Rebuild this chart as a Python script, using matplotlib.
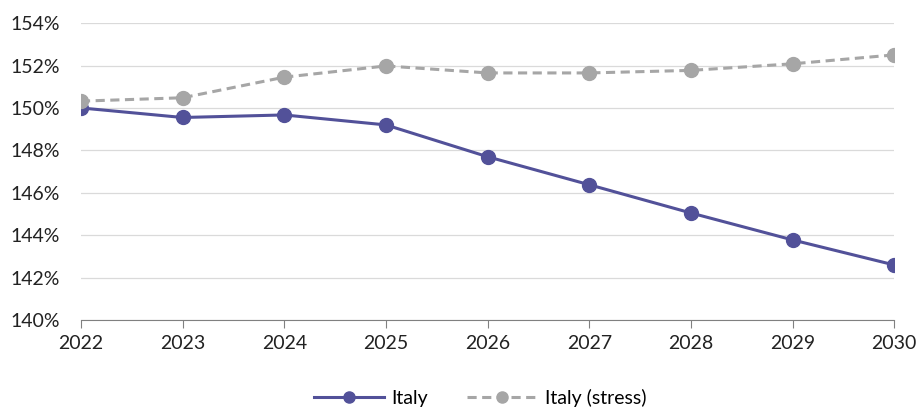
import matplotlib
matplotlib.use("Agg")
import matplotlib.pyplot as plt
from matplotlib.ticker import FuncFormatter

years = [2022, 2023, 2024, 2025, 2026, 2027, 2028, 2029, 2030]
italy = [150.0, 149.55, 149.67, 149.2, 147.7, 146.38, 145.05, 143.78, 142.6]
italy_stress = [150.32, 150.48, 151.45, 151.98, 151.65, 151.65, 151.77, 152.08, 152.5]
yticks = [140, 142, 144, 146, 148, 150, 152, 154]

plt.rcParams['font.family'] = ['Lato', 'DejaVu Sans']

fig = plt.figure(figsize=(9.2, 4.12), dpi=100)
ax = fig.add_axes([0.088, 0.223, 0.884, 0.721])

ax.plot(years, italy, color='#525199', lw=2.2, marker='o', ms=10, label='Italy', zorder=3)
ax.plot(years, italy_stress, color='#A6A6A6', lw=2.2, ls=(0, (3, 1.8)), marker='o', ms=10,
        label='Italy (stress)', zorder=3)

ax.set_xlim(2022, 2030)
ax.set_ylim(140, 154)
ax.set_yticks(yticks)
ax.yaxis.set_major_formatter(FuncFormatter(lambda v, p: f"{v:.0f}%"))
ax.set_xticks(years)
ax.grid(axis='y', color='#DADADA', lw=0.9)
ax.set_axisbelow(True)
for s in ['top', 'right', 'left']:
    ax.spines[s].set_visible(False)
ax.spines['bottom'].set_color('#808080')
ax.tick_params(axis='y', length=0, labelsize=14, colors='#222222', pad=15)
ax.tick_params(axis='x', length=6, color='#808080', labelsize=14, labelcolor='#222222', pad=5)

fig.legend(loc='lower center', bbox_to_anchor=(0.522, -0.03), ncol=2, frameon=False,
           fontsize=14, handlelength=3.6, handletextpad=0.4, columnspacing=2.0, markerscale=0.8)

fig.savefig('out.png', dpi=100)
